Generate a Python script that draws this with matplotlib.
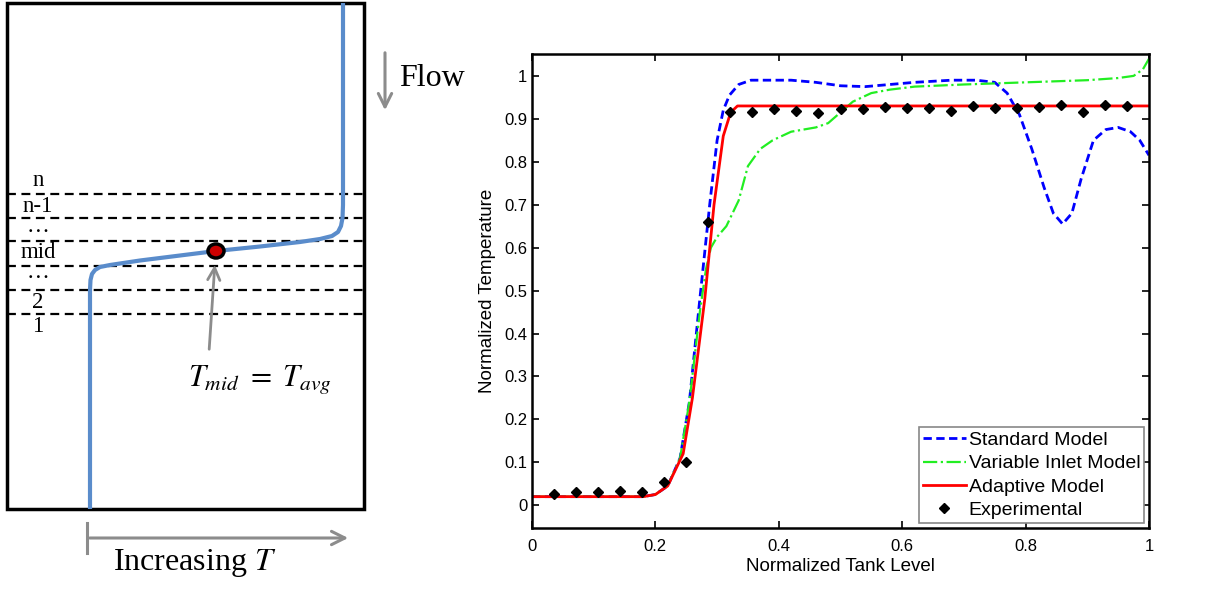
import numpy as np
import matplotlib.pyplot as plt
from matplotlib.patches import Rectangle, Ellipse

plt.rcParams['font.family'] = ['Liberation Sans', 'DejaVu Sans']
plt.rcParams['mathtext.fontset'] = 'stix'

# ---- right panel data ----
exp_x = np.arange(1, 28) / 28
exp_y = [0.026, 0.032, 0.030, 0.033, 0.032, 0.055, 0.100, 0.660, 0.917,
         0.917, 0.924, 0.919, 0.913, 0.924, 0.924, 0.928, 0.926, 0.926,
         0.918, 0.929, 0.925, 0.925, 0.928, 0.932, 0.916, 0.932, 0.931]

std_x = [0, 0.18, 0.20, 0.22, 0.24, 0.255, 0.272, 0.288, 0.30, 0.31, 0.32,
         0.335, 0.355, 0.38, 0.42, 0.46, 0.50, 0.54, 0.58, 0.62, 0.68, 0.72,
         0.75, 0.77, 0.79, 0.81, 0.83, 0.845, 0.86, 0.875, 0.89, 0.91, 0.93,
         0.95, 0.97, 0.985, 1.0]
std_y = [0.02, 0.02, 0.025, 0.045, 0.11, 0.24, 0.48, 0.70, 0.85, 0.92, 0.955,
         0.98, 0.99, 0.99, 0.99, 0.985, 0.977, 0.975, 0.98, 0.985, 0.99, 0.99,
         0.985, 0.96, 0.91, 0.83, 0.74, 0.68, 0.655, 0.68, 0.76, 0.85, 0.875,
         0.88, 0.87, 0.85, 0.815]

var_x = [0, 0.18, 0.20, 0.22, 0.24, 0.255, 0.272, 0.282, 0.29, 0.30, 0.315,
         0.335, 0.35, 0.37, 0.39, 0.42, 0.46, 0.48, 0.50, 0.52, 0.55, 0.58,
         0.62, 0.70, 0.80, 0.90, 0.95, 0.975, 0.99, 1.0]
var_y = [0.02, 0.02, 0.025, 0.045, 0.11, 0.24, 0.45, 0.55, 0.60, 0.625, 0.65,
         0.71, 0.79, 0.83, 0.85, 0.87, 0.88, 0.89, 0.915, 0.94, 0.96, 0.968,
         0.975, 0.98, 0.985, 0.99, 0.995, 1.0, 1.015, 1.04]

ada_x = [0, 0.18, 0.20, 0.22, 0.245, 0.26, 0.28, 0.295, 0.31, 0.322, 0.333, 1.0]
ada_y = [0.02, 0.02, 0.025, 0.045, 0.12, 0.25, 0.48, 0.70, 0.86, 0.915, 0.93, 0.93]

legend_labels = ['Standard Model', 'Variable Inlet Model', 'Adaptive Model',
                 'Experimental']

# ---- left schematic (pixel layout of the sketch) ----
profile_x = [90, 90, 90.5, 92, 95, 100, 110, 140, 180, 216, 260, 300, 320,
             332, 338, 341, 342.5, 343, 343]
profile_y = [509, 290, 280, 274, 270, 267, 265, 260.5, 255.5, 251, 246.5,
             242, 239, 236, 232, 226, 218, 205, 3]
layer_y = [194, 218, 241, 266, 290, 314]
layer_labels = ['n', 'n-1', '\u2026', 'mid', '\u2026', '2', '1']
layer_label_y = [181, 206, 227, 253, 273, 302, 326]

fig = plt.figure(figsize=(12.25, 6.03), dpi=100)

# sketch canvas in pixel coordinates
ax0 = fig.add_axes([0, 0, 1, 1])
ax0.set_xlim(0, 1225)
ax0.set_ylim(603, 0)
ax0.axis('off')

ax0.add_patch(Rectangle((7, 3), 357, 506, fill=False, ec='black', lw=2.5))
for y in layer_y:
    ax0.plot([7, 364], [y, y], '--', color='black', lw=1.6, dashes=(4, 2.5))
for lab, y in zip(layer_labels, layer_label_y):
    ax0.text(38, y, lab, ha='center', va='center', fontsize=16.5,
             family='Liberation Serif')
ax0.plot(profile_x, profile_y, color='#5a8ccb', lw=3, solid_capstyle='butt')
ax0.add_patch(Ellipse((216, 251), 16, 14, fc='#cc0000', ec='black', lw=2.5,
                      zorder=5))
ax0.annotate('', xy=(215, 262), xytext=(209, 352),
             arrowprops=dict(arrowstyle='->', color='#8c8c8c', lw=2,
                             mutation_scale=22))
ax0.text(260, 380, r'$T_{mid}\ =\ T_{avg}$', ha='center', va='center',
         fontsize=22)

# flow arrow
ax0.annotate('', xy=(385, 113), xytext=(385, 50),
             arrowprops=dict(arrowstyle='->', color='#8c8c8c', lw=2.2,
                             mutation_scale=24))
ax0.text(399, 78, 'Flow', ha='left', va='center', fontsize=23,
         family='Liberation Serif')

# increasing T arrow
ax0.plot([87, 87], [523, 553], color='#8c8c8c', lw=2.2)
ax0.annotate('', xy=(351, 538), xytext=(87, 538),
             arrowprops=dict(arrowstyle='->', color='#8c8c8c', lw=2.2,
                             mutation_scale=24))
ax0.text(195, 563, r'Increasing $T$', ha='center', va='center', fontsize=23,
         family='Liberation Serif')

# ---- right chart ----
ax = fig.add_axes([532 / 1225, 1 - 528 / 603, 617 / 1225, 474 / 603])
ax.plot(std_x, std_y, '--', color='#0000ff', lw=2, dashes=(3, 1.6),
        label=legend_labels[0])
ax.plot(var_x, var_y, '-.', color='#22ee22', lw=1.6, label=legend_labels[1])
ax.plot(ada_x, ada_y, '-', color='#ff0000', lw=2, label=legend_labels[2])
ax.plot(exp_x, exp_y, 'D', color='black', ms=5.5, label=legend_labels[3])

ax.set_xlim(0, 1)
ax.set_ylim(-0.053, 1.051)
ax.set_xticks(np.arange(0, 1.01, 0.2))
ax.set_xticklabels(['0', '0.2', '0.4', '0.6', '0.8', '1'])
ax.set_yticks(np.arange(0, 1.01, 0.1))
ax.set_yticklabels(['0', '0.1', '0.2', '0.3', '0.4', '0.5', '0.6', '0.7',
                    '0.8', '0.9', '1'])
ax.tick_params(direction='in', top=True, right=True, length=5, width=1.2,
               labelsize=12)
ax.tick_params(axis='x', pad=8)
for s in ax.spines.values():
    s.set_linewidth(1.8)
ax.set_xlabel('Normalized Tank Level', fontsize=13.5, labelpad=3)
ax.set_ylabel('Normalized Temperature', fontsize=13.5, labelpad=6)

leg = ax.legend(loc='lower right', fontsize=14, handlelength=2.2,
                handletextpad=0.15, borderpad=0.2, labelspacing=0.3,
                borderaxespad=0.25, fancybox=False, framealpha=1)
leg.get_frame().set_edgecolor('#888888')
leg.get_frame().set_linewidth(1.2)

plt.savefig('out.png', dpi=100)
plt.close()
